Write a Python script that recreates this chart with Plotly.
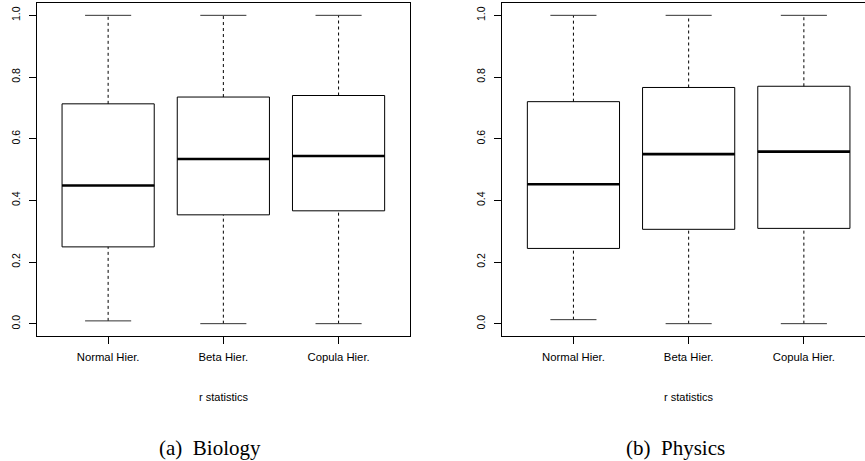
import plotly.graph_objects as go

# ---------------- data ----------------
categories = ["Normal Hier.", "Beta Hier.", "Copula Hier."]
positions = [1, 2, 3]
y_ticks = [0.0, 0.2, 0.4, 0.6, 0.8, 1.0]
y_tick_labels = ["0.0", "0.2", "0.4", "0.6", "0.8", "1.0"]

bio_lower = [0.009, 0.0, 0.0]
bio_q1 = [0.249, 0.353, 0.366]
bio_median = [0.448, 0.534, 0.544]
bio_q3 = [0.713, 0.735, 0.740]
bio_upper = [1.0, 1.0, 1.0]

phys_lower = [0.013, 0.0, 0.0]
phys_q1 = [0.244, 0.306, 0.309]
phys_median = [0.452, 0.550, 0.558]
phys_q3 = [0.720, 0.766, 0.770]
phys_upper = [1.0, 1.0, 1.0]

x_title = "r statistics"
captions = ["(a)\u00a0\u00a0Biology", "(b)\u00a0\u00a0Physics"]

# ---------------- styling ----------------
W, H = 865, 461
BOX_W = 0.8
CAP_W = 0.4
SANS = "Liberation Sans, Arial, Helvetica, sans-serif"
SERIF = "Liberation Serif, Times New Roman, serif"
XTICK_FONT = dict(family=SANS, size=11.3, color="black")
YTICK_FONT = dict(family=SANS, size=10.5, color="black")


def px_x(v):
    return v / W


def px_y(v):
    return (H - v) / H


fig = go.Figure()


def add_panel(xref, yref, lower, q1, med, q3, upper):
    fig.add_trace(go.Box(
        x=positions, q1=q1, median=med, q3=q3,
        lowerfence=q1, upperfence=q3,
        width=BOX_W, whiskerwidth=0,
        fillcolor="white", line=dict(color="black", width=1),
        boxpoints=False, showlegend=False, hoverinfo="skip",
        xaxis=xref, yaxis=yref,
    ))
    for i, p in enumerate(positions):
        fig.add_trace(go.Scatter(
            x=[p, p], y=[q3[i], upper[i]], mode="lines",
            line=dict(color="black", width=1, dash="3px,3px"),
            showlegend=False, hoverinfo="skip", xaxis=xref, yaxis=yref))
        fig.add_trace(go.Scatter(
            x=[p, p], y=[lower[i], q1[i]], mode="lines",
            line=dict(color="black", width=1, dash="3px,3px"),
            showlegend=False, hoverinfo="skip", xaxis=xref, yaxis=yref))
        for v in (upper[i], lower[i]):
            fig.add_trace(go.Scatter(
                x=[p - CAP_W / 2, p + CAP_W / 2], y=[v, v], mode="lines",
                line=dict(color="#333333", width=1),
                showlegend=False, hoverinfo="skip", xaxis=xref, yaxis=yref))
        fig.add_trace(go.Scatter(
            x=[p - BOX_W / 2, p + BOX_W / 2], y=[med[i], med[i]], mode="lines",
            line=dict(color="black", width=2.6),
            showlegend=False, hoverinfo="skip", xaxis=xref, yaxis=yref))


add_panel("x", "y", bio_lower, bio_q1, bio_median, bio_q3, bio_upper)
add_panel("x2", "y2", phys_lower, phys_q1, phys_median, phys_q3, phys_upper)

ydom = [px_y(336), px_y(3)]
x1dom = [px_x(36.7), px_x(410)]
x2dom = [px_x(502), 1.0]
px_per_unit = (410 - 36.7) / 3.24
x2_max = 0.38 + (865 - 502) / px_per_unit

common_x = dict(
    tickmode="array", tickvals=positions, ticktext=categories,
    showgrid=False, zeroline=False, showline=True, linecolor="black", linewidth=1,
    ticks="outside", ticklen=7, tickcolor="black", tickwidth=1,
    tickfont=XTICK_FONT, ticklabelstandoff=3,
)
common_y = dict(
    tickmode="array", tickvals=y_ticks, ticktext=y_tick_labels, tickangle=-90,
    range=[-0.04, 1.04], domain=ydom,
    showgrid=False, zeroline=False, showline=True, linecolor="black", linewidth=1,
    ticks="outside", ticklen=7, tickcolor="black", tickwidth=1,
    tickfont=YTICK_FONT, ticklabelstandoff=5,
)

anns = []
for cx in (223.3, 688.8):
    anns.append(dict(text=x_title, x=px_x(cx), y=px_y(397.3), xref="paper", yref="paper",
                     showarrow=False, xanchor="center", yanchor="middle",
                     font=dict(family=SANS, size=11, color="black")))
for cap, cx in zip(captions, (210, 675)):
    anns.append(dict(text=cap, x=px_x(cx), y=px_y(448), xref="paper", yref="paper",
                     showarrow=False, xanchor="center", yanchor="middle",
                     font=dict(family=SERIF, size=21, color="black")))

fig.update_layout(
    width=W, height=H,
    margin=dict(l=0, r=0, t=0, b=0),
    paper_bgcolor="white", plot_bgcolor="white",
    showlegend=False,
    xaxis=dict(domain=x1dom, range=[0.38, 3.62], mirror=True, anchor="y", **common_x),
    yaxis=dict(anchor="x", mirror=True, **common_y),
    xaxis2=dict(domain=x2dom, range=[0.38, x2_max], mirror=True, anchor="y2", **common_x),
    yaxis2=dict(anchor="x2", mirror=False, **common_y),
    annotations=anns,
)

# remove the browser's default 8px body margin so the figure sits at the window origin
fig.write_html("out.html", config={"displayModeBar": False},
               post_script="document.body.style.margin='0px';")
